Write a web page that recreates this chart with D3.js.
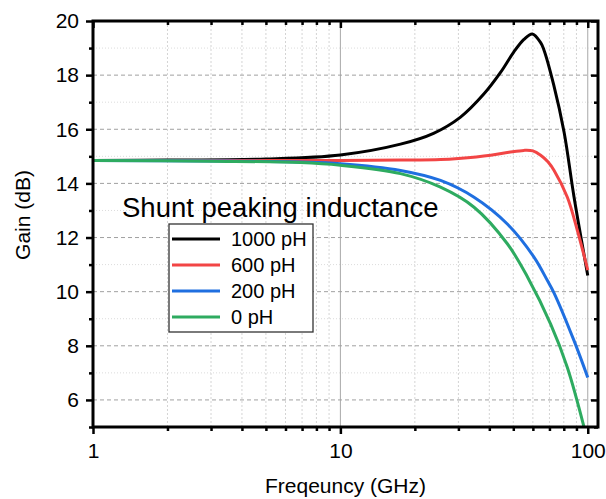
<!DOCTYPE html>
<html>
<head>
<meta charset="utf-8">
<script src="https://cdn.jsdelivr.net/npm/d3@7"></script>
<style>
  body { margin: 0; background: #fff; }
  svg text { font-family: "Liberation Sans", Arial, sans-serif; fill: #000; }
</style>
</head>
<body>
<svg id="chart" width="606" height="499"></svg>
<script>
// series values (frequency in GHz, gain in dB)
const labels = ["1000 pH", "600 pH", "200 pH", "0 pH"];
const colors = ["#000000", "#f24545", "#1f6fe0", "#2eab60"];

const freq1000 = [1, 2, 5, 10, 17.5, 23.8, 30.6, 38, 44.4, 50.2, 55.2, 59.7, 64.5, 66.4, 72.8, 80.2, 88, 100];
const gain1000 = [14.85, 14.86, 14.9, 15.05, 15.45, 15.85, 16.45, 17.3, 18.1, 18.85, 19.32, 19.52, 19.2, 18.95, 17.65, 15.9, 13.5, 10.6];

const freq600 = [1, 5, 10, 17.5, 25.4, 30, 40.5, 48, 55.2, 60, 64.5, 69, 73.1, 82.7, 90.8, 100];
const gain600 = [14.85, 14.85, 14.85, 14.86, 14.88, 14.92, 15.04, 15.15, 15.22, 15.2, 15.04, 14.8, 14.48, 13.49, 12.26, 10.8];

const freq200 = [1, 3, 6.9, 10, 17.5, 25.4, 34.7, 47.3, 60.7, 68.7, 73.1, 88, 100];
const gain200 = [14.85, 14.83, 14.79, 14.73, 14.48, 14.11, 13.49, 12.5, 11.27, 10.41, 9.95, 8.19, 6.83];

const freq0 = [1, 3, 6.9, 10, 17.5, 25.4, 34.7, 47.3, 57, 70.8, 82.7, 96.7];
const gain0 = [14.85, 14.82, 14.77, 14.67, 14.36, 13.86, 13.12, 11.77, 10.55, 8.8, 7.2, 4.98];

const xMajor = [1, 10, 100];
const xMinor = [2, 3, 4, 5, 6, 7, 8, 9, 20, 30, 40, 50, 60, 70, 80, 90];
const yMajor = [6, 8, 10, 12, 14, 16, 18, 20];
const yMinor = [5, 7, 9, 11, 13, 15, 17, 19];

const series = [
  { f: freq1000, g: gain1000 },
  { f: freq600, g: gain600 },
  { f: freq200, g: gain200 },
  { f: freq0, g: gain0 }
];

const plotLeft = 93, plotRight = 598, plotTop = 21, plotBottom = 427;

const svg = d3.select("#chart");

const x = d3.scaleLog().domain([1, 110]).range([plotLeft, plotRight]);
const y = d3.scaleLinear().domain([5, 20]).range([plotBottom, plotTop]);

// grid
const grid = svg.append("g");
grid.selectAll(".vminor").data(xMinor).enter().append("line")
  .attr("x1", d => x(d)).attr("x2", d => x(d))
  .attr("y1", plotTop).attr("y2", plotBottom)
  .attr("stroke", "#d4d4d4").attr("stroke-width", 1).attr("stroke-dasharray", "2,2");
grid.selectAll(".vmajor").data([10, 100]).enter().append("line")
  .attr("x1", d => x(d)).attr("x2", d => x(d))
  .attr("y1", plotTop).attr("y2", plotBottom)
  .attr("stroke", "#a8a8a8").attr("stroke-width", 1);
grid.selectAll(".hminor").data(yMinor.filter(d => d > 5)).enter().append("line")
  .attr("x1", plotLeft).attr("x2", plotRight)
  .attr("y1", d => y(d)).attr("y2", d => y(d))
  .attr("stroke", "#dcdcdc").attr("stroke-width", 1).attr("stroke-dasharray", "1,2");
grid.selectAll(".hmajor").data(yMajor.filter(d => d < 20)).enter().append("line")
  .attr("x1", plotLeft).attr("x2", plotRight)
  .attr("y1", d => y(d)).attr("y2", d => y(d))
  .attr("stroke", "#a0a0a0").attr("stroke-width", 1).attr("stroke-dasharray", "4,3");

// curves
const line = d3.line()
  .x(d => x(d[0]))
  .y(d => y(d[1]))
  .curve(d3.curveCatmullRom.alpha(0.5));

svg.append("g").selectAll("path")
  .data(series)
  .enter()
  .append("path")
  .attr("d", s => line(s.f.map((f, i) => [f, s.g[i]])))
  .attr("fill", "none")
  .attr("stroke", (s, i) => colors[i])
  .attr("stroke-width", 3);

// axes
function styleAxis(g) {
  g.select(".domain").remove();
  g.selectAll(".tick line").attr("stroke", "#000").attr("stroke-width", 2.5);
  g.selectAll(".tick text").style("font-size", "21px");
}

svg.append("g").attr("transform", `translate(0,${plotBottom})`)
  .call(d3.axisBottom(x).tickValues(xMinor).tickSize(4).tickFormat(""))
  .call(styleAxis);
svg.append("g").attr("transform", `translate(0,${plotBottom})`)
  .call(d3.axisBottom(x).tickValues(xMajor).tickSize(7).tickPadding(9).tickFormat(d3.format("d")))
  .call(styleAxis);

svg.append("g").attr("transform", `translate(0,${plotTop})`)
  .call(d3.axisTop(x).tickValues(xMinor).tickSize(-4).tickFormat(""))
  .call(styleAxis);
svg.append("g").attr("transform", `translate(0,${plotTop})`)
  .call(d3.axisTop(x).tickValues(xMajor).tickSize(-7).tickFormat(""))
  .call(styleAxis);

svg.append("g").attr("transform", `translate(${plotLeft},0)`)
  .call(d3.axisLeft(y).tickValues(yMinor).tickSize(4).tickFormat(""))
  .call(styleAxis);
svg.append("g").attr("transform", `translate(${plotLeft},0)`)
  .call(d3.axisLeft(y).tickValues(yMajor).tickSize(7).tickPadding(7))
  .call(styleAxis);

svg.append("g").attr("transform", `translate(${plotRight},0)`)
  .call(d3.axisRight(y).tickValues(yMinor).tickSize(-4).tickFormat(""))
  .call(styleAxis);
svg.append("g").attr("transform", `translate(${plotRight},0)`)
  .call(d3.axisRight(y).tickValues(yMajor).tickSize(-7).tickFormat(""))
  .call(styleAxis);

// frame
svg.append("rect")
  .attr("x", plotLeft).attr("y", plotTop)
  .attr("width", plotRight - plotLeft).attr("height", plotBottom - plotTop)
  .attr("fill", "none").attr("stroke", "#000").attr("stroke-width", 3);

// axis titles
svg.append("text")
  .attr("x", (plotLeft + plotRight) / 2).attr("y", 493)
  .attr("text-anchor", "middle")
  .style("font-size", "21px")
  .text("Freqeuncy (GHz)");

svg.append("text")
  .attr("transform", "translate(30,215) rotate(-90)")
  .attr("text-anchor", "middle")
  .style("font-size", "21px")
  .text("Gain (dB)");

// legend
svg.append("text")
  .attr("x", 122).attr("y", 217)
  .style("font-size", "27.5px")
  .text("Shunt peaking inductance");

const legend = svg.append("g");
legend.append("rect")
  .attr("x", 169).attr("y", 224)
  .attr("width", 144).attr("height", 108)
  .attr("fill", "#fff").attr("stroke", "#333").attr("stroke-width", 1.3);

const items = legend.selectAll(".item")
  .data(labels)
  .enter()
  .append("g")
  .attr("transform", (d, i) => `translate(0,${239 + i * 26})`);

items.append("line")
  .attr("x1", 172).attr("x2", 220)
  .attr("stroke", (d, i) => colors[i])
  .attr("stroke-width", 3);

items.append("text")
  .attr("x", 231).attr("dy", "0.35em")
  .style("font-size", "20px")
  .text(d => d);
</script>
</body>
</html>
